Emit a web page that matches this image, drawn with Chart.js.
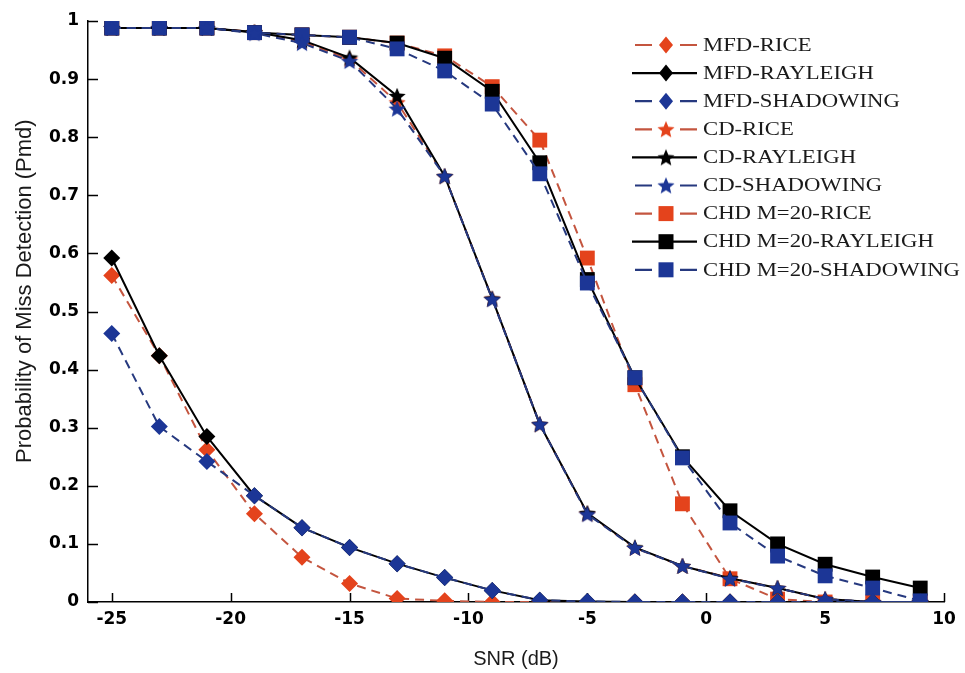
<!DOCTYPE html>
<html><head><meta charset="utf-8">
<script src="https://cdn.jsdelivr.net/npm/chart.js@4.4.1/dist/chart.umd.min.js"></script>
<style>html,body{margin:0;padding:0;background:#fff;}canvas{display:block;}</style>
</head><body>
<canvas id="c" width="965" height="673" style="width:965px;height:673px"></canvas>
<script>
// ---- data ----
const snr = [-25,-23,-21,-19,-17,-15,-13,-11,-9,-7,-5,-3,-1,1,3,5,7,9];

const mfdRice      = [0.562,0.424,0.262,0.152,0.077,0.032,0.006,0.002,0.000,0,0,0,0,0,0,0,0,0];
const mfdRayleigh  = [0.592,0.424,0.285,0.183,0.128,0.094,0.066,0.042,0.020,0.003,0.001,0,0,0,0,0,0,0];
const mfdShadowing = [0.462,0.302,0.242,0.183,0.128,0.094,0.066,0.042,0.020,0.003,0.001,0,0,0,0,0,0,0];

const cdRice       = [0.988,0.988,0.988,0.981,0.965,0.934,0.860,0.733,0.522,0.306,0.152,0.093,0.062,0.041,0.024,0.005,0,0];
const cdRayleigh   = [0.988,0.988,0.988,0.981,0.967,0.937,0.871,0.733,0.522,0.306,0.153,0.094,0.062,0.041,0.024,0.005,0,0];
const cdShadowing  = [0.988,0.988,0.988,0.979,0.962,0.931,0.849,0.733,0.521,0.306,0.151,0.093,0.062,0.040,0.024,0.005,0,0];

const chdRice      = [0.988,0.988,0.988,0.980,0.976,0.972,0.962,0.940,0.887,0.795,0.592,0.374,0.169,0.040,0.005,0,0,0];
const chdRayleigh  = [0.988,0.988,0.988,0.980,0.976,0.972,0.962,0.936,0.879,0.756,0.555,0.386,0.250,0.157,0.100,0.065,0.043,0.024];
const chdShadowing = [0.988,0.988,0.988,0.980,0.976,0.972,0.952,0.914,0.857,0.737,0.549,0.386,0.248,0.136,0.079,0.045,0.024,0.002];

const seriesNames = ['MFD-RICE','MFD-RAYLEIGH','MFD-SHADOWING','CD-RICE','CD-RAYLEIGH','CD-SHADOWING','CHD M=20-RICE','CHD M=20-RAYLEIGH','CHD M=20-SHADOWING'];
const xTickValues = [-25,-20,-15,-10,-5,0,5,10];
const yTickValues = [0,0.1,0.2,0.3,0.4,0.5,0.6,0.7,0.8,0.9,1];
const yTickLabels = ['0','0.1','0.2','0.3','0.4','0.5','0.6','0.7','0.8','0.9','1'];
const xTitle = 'SNR (dB)';
const yTitle = 'Probability of Miss Detection (Pmd)';

// ---- styles ----
const RED_LINE = '#c4553f', RED_MARK = '#e4431c';
const BLUE_LINE = '#26397f', BLUE_MARK = '#1c3696';
const BLACK = '#000000';

function starCanvas(color, size) {
  const c = document.createElement('canvas');
  c.width = size; c.height = size;
  const g = c.getContext('2d');
  const cx = size / 2, cy = size / 2 + 0.8, R = size / 2, r = R * 0.45;
  g.beginPath();
  for (let i = 0; i < 10; i++) {
    const a = -Math.PI / 2 + i * Math.PI / 5;
    const rr = i % 2 ? r : R;
    g.lineTo(cx + rr * Math.cos(a), cy + rr * Math.sin(a));
  }
  g.closePath();
  g.fillStyle = color; g.fill();
  return c;
}

const fam = {
  RICE:      {line: RED_LINE,  mark: RED_MARK,  dash: [9, 6], order: 3},
  RAYLEIGH:  {line: BLACK,     mark: BLACK,     dash: [],     order: 2},
  SHADOWING: {line: BLUE_LINE, mark: BLUE_MARK, dash: [9, 6], order: 1}
};
const markers = {
  MFD: (c) => ({style: 'rectRot', radius: 8.5}),
  CD:  (c) => ({style: starCanvas(c, 18), radius: 9}),
  CHD: (c) => ({style: 'rect', radius: 10.5})
};

const seriesValues = [mfdRice, mfdRayleigh, mfdShadowing, cdRice, cdRayleigh, cdShadowing, chdRice, chdRayleigh, chdShadowing];

const datasets = seriesNames.map((name, k) => {
  const kind = name.split(/[- ]/)[0];
  const chan = name.split('-').pop();
  const f = fam[chan];
  const m = markers[kind](f.mark);
  return {
    label: name,
    data: snr.map((x, i) => ({x: x, y: seriesValues[k][i]})),
    borderColor: f.line,
    borderWidth: 2,
    borderDash: f.dash,
    pointStyle: m.style,
    pointRadius: m.radius,
    pointHoverRadius: m.radius,
    pointBackgroundColor: f.mark,
    pointBorderColor: f.mark,
    pointBorderWidth: 0,
    tension: 0,
    fill: false,
    order: f.order,
    _kind: kind, _fam: f, _marker: m
  };
});

// inward tick marks + y-axis title
const tickPlugin = {
  id: 'inwardTicks',
  beforeDatasetsDraw(chart) {
    const ctx = chart.ctx, a = chart.chartArea;
    const xs = chart.scales.x, ys = chart.scales.y;
    ctx.save();
    ctx.strokeStyle = '#000'; ctx.lineWidth = 1.5;
    ctx.beginPath();
    xs.ticks.forEach(t => { const p = Math.round(xs.getPixelForValue(t.value)) + 0.5; ctx.moveTo(p, a.bottom); ctx.lineTo(p, a.bottom - 9); });
    ys.ticks.forEach(t => { const p = Math.round(ys.getPixelForValue(t.value)) + 0.5; ctx.moveTo(a.left, p); ctx.lineTo(a.left + 10, p); });
    ctx.stroke();
    // y title, centred a little above the middle of the axis as in the reference
    ctx.fillStyle = '#1a1a1a';
    ctx.font = '22px "Liberation Sans"';
    ctx.textAlign = 'center'; ctx.textBaseline = 'middle';
    ctx.translate(25, ys.getPixelForValue(0.535));
    ctx.rotate(-Math.PI / 2);
    ctx.fillText(yTitle, 0, 0);
    ctx.restore();
  }
};

// legend with line + marker samples
const legendPlugin = {
  id: 'lineLegend',
  afterDraw(chart) {
    const ctx = chart.ctx, a = chart.chartArea;
    const x0 = a.left + 547, y0 = a.top + 24, step = 28.1;
    ctx.save();
    ctx.font = '18px "Liberation Serif"';
    let maxW = 0;
    seriesNames.forEach(n => { maxW = Math.max(maxW, ctx.measureText(n).width); });
    const sx = 257 / maxW;
    chart.data.datasets.forEach((ds, i) => {
      const y = y0 + i * step;
      const f = ds._fam;
      ctx.strokeStyle = f.line; ctx.lineWidth = 2.2;
      ctx.setLineDash([]);
      ctx.beginPath();
      if (f.dash.length) {
        ctx.moveTo(x0, y); ctx.lineTo(x0 + 17, y);
        ctx.moveTo(x0 + 45, y); ctx.lineTo(x0 + 62, y);
      } else {
        ctx.moveTo(x0 - 3, y); ctx.lineTo(x0 + 62, y);
      }
      ctx.stroke();
      const cx = x0 + 31;
      ctx.fillStyle = f.mark;
      if (ds._kind === 'MFD') {
        ctx.beginPath(); ctx.moveTo(cx, y - 8.5); ctx.lineTo(cx + 7, y); ctx.lineTo(cx, y + 8.5); ctx.lineTo(cx - 7, y); ctx.closePath(); ctx.fill();
      } else if (ds._kind === 'CHD') {
        ctx.fillRect(cx - 7.5, y - 7.5, 15, 15);
      } else {
        const img = ds._marker.style; ctx.drawImage(img, cx - img.width / 2, y - img.height / 2);
      }
      ctx.fillStyle = '#1a1a1a';
      ctx.textBaseline = 'middle'; ctx.textAlign = 'left';
      ctx.save();
      ctx.translate(x0 + 68, y + 1);
      ctx.scale(sx, 1);
      ctx.fillText(ds.label, 0, 0);
      ctx.restore();
    });
    ctx.restore();
  }
};

new Chart(document.getElementById('c'), {
  type: 'line',
  data: {datasets: datasets},
  plugins: [tickPlugin, legendPlugin],
  options: {
    responsive: false,
    devicePixelRatio: 1,
    animation: false,
    layout: {padding: {left: 0, top: 21, right: 21, bottom: 0}},
    plugins: {legend: {display: false}, tooltip: {enabled: false}},
    scales: {
      x: {
        type: 'linear', min: -26, max: 10,
        afterBuildTicks: s => { s.ticks = xTickValues.map(v => ({value: v})); },
        afterFit: s => { s.height = 71; },
        grid: {display: false, drawTicks: false},
        border: {display: true, color: '#000', width: 1.5},
        ticks: {color: '#000', padding: 7, font: {family: '"DejaVu Sans"', weight: 'bold', size: 17}, callback: v => String(v), maxRotation: 0, autoSkip: false},
        title: {display: true, text: xTitle, color: '#1a1a1a', font: {family: '"Liberation Sans"', size: 20}, padding: {top: 0, bottom: 2}}
      },
      y: {
        type: 'linear', min: 0, max: 1,
        afterBuildTicks: s => { s.ticks = yTickValues.map(v => ({value: v})); },
        afterFit: s => { s.width = 88; },
        grid: {display: false, drawTicks: false},
        border: {display: true, color: '#000', width: 1.5},
        ticks: {color: '#000', padding: 9, font: {family: '"DejaVu Sans"', weight: 'bold', size: 17}, callback: (v, i) => yTickLabels[i], autoSkip: false},
        title: {display: false}
      }
    }
  }
});
</script>
</body></html>
